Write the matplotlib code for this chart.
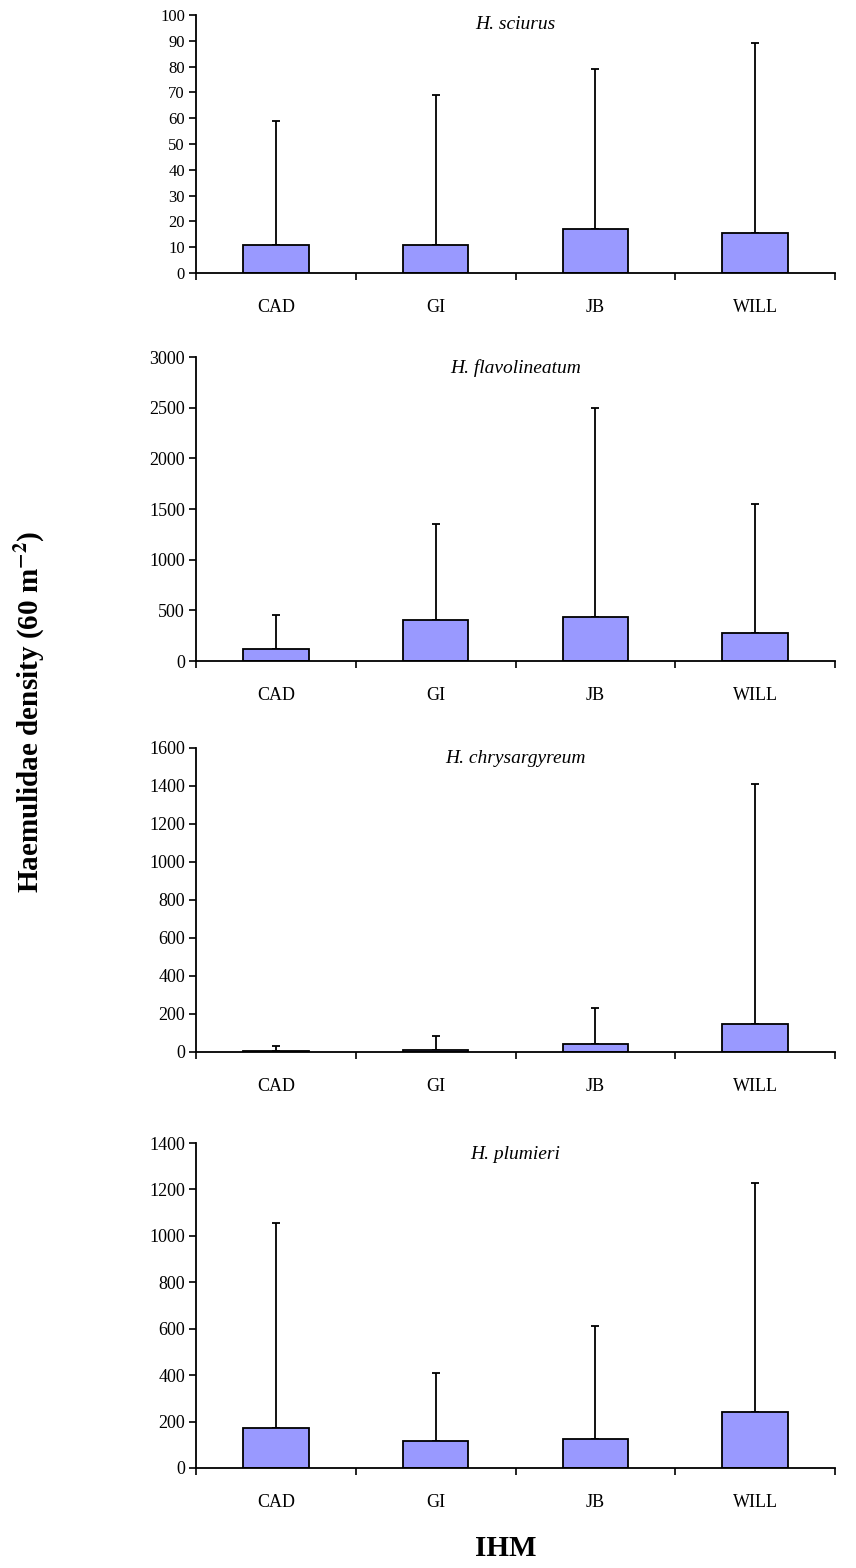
import matplotlib.pyplot as plt
import numpy as np

# data
sites = ['CAD', 'GI', 'JB', 'WILL']
species = ['H. sciurus', 'H. flavolineatum', 'H. chrysargyreum', 'H. plumieri']

sciurus_mean = [11, 11, 17, 15.5]
sciurus_err = [48, 58, 62, 73.5]

flavo_mean = [120, 400, 436, 272]
flavo_err = [330, 955, 2064, 1278]

chrys_mean = [5, 12, 40, 149]
chrys_err = [27, 72, 189, 1263]

plum_mean = [172, 116, 123, 240]
plum_err = [883, 295, 490, 986]

means = [sciurus_mean, flavo_mean, chrys_mean, plum_mean]
errs = [sciurus_err, flavo_err, chrys_err, plum_err]
ymax = [100, 3000, 1600, 1400]
ystep = [10, 500, 200, 200]

W, H = 856, 1568
fig = plt.figure(figsize=(W / 100, H / 100), dpi=100)
plt.rcParams['font.family'] = ['Liberation Serif', 'DejaVu Serif']
plt.rcParams['mathtext.fontset'] = 'stix'

# axes boxes in pixels: (top, zero line)
boxes = [(15, 273), (357, 661), (748, 1052), (1143, 1468)]
left_px, right_px = 196, 835

x = np.arange(len(sites)) + 0.5

for i in range(4):
    top, bot = boxes[i]
    ax = fig.add_axes([left_px / W, 1 - bot / H, (right_px - left_px) / W, (bot - top) / H])
    ax.bar(x, means[i], width=0.41, color='#9999ff', edgecolor='black', linewidth=1.3, zorder=2)
    ax.errorbar(x, means[i], yerr=[np.zeros(4), errs[i]], fmt='none', ecolor='black',
                elinewidth=1.3, capsize=3, capthick=1.3, zorder=1)
    ax.set_xlim(0, 4)
    ax.set_ylim(0, ymax[i])
    ax.set_yticks(np.arange(0, ymax[i] + 1, ystep[i]))
    ax.set_xticks([0, 1, 2, 3, 4])
    ax.set_xticklabels([])
    ax.set_xticks(x, minor=True)
    ax.set_xticklabels(sites, minor=True, fontsize=13)
    ax.tick_params(axis='x', which='minor', length=0, pad=19)
    ax.tick_params(axis='x', which='major', length=5, width=1.2, direction='out')
    ax.tick_params(axis='y', length=5, width=1.2, direction='out', pad=3,
                   labelsize=12 if i == 0 else 13)
    for s in ['top', 'right']:
        ax.spines[s].set_visible(False)
    for s in ['left', 'bottom']:
        ax.spines[s].set_linewidth(1.3)
    ax.text(0.5, 0.965, species[i], transform=ax.transAxes, ha='center', va='center',
            fontsize=14, style='italic')

fig.text(30 / W, 1 - 712 / H, 'Haemulidae density (60 m$^{\\mathbf{-2}}$)', rotation=90,
         ha='center', va='center', fontsize=21, fontweight='bold')
fig.text(506 / W, 1 - 1549 / H, 'IHM', ha='center', va='center', fontsize=21, fontweight='bold')

plt.savefig('out.png', dpi=100)
